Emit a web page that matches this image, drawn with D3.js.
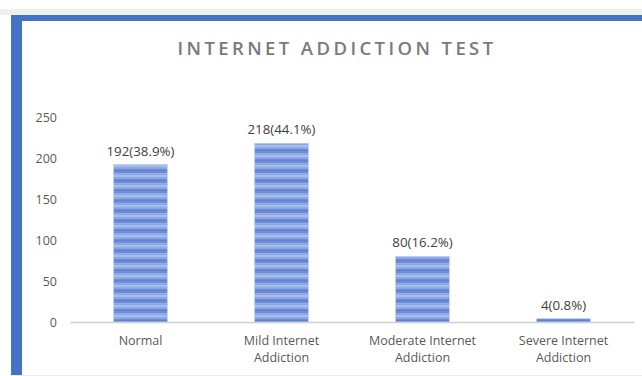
<!DOCTYPE html>
<html>
<head>
<meta charset="utf-8">
<script src="https://cdn.jsdelivr.net/npm/d3@7"></script>
<style>
  body { margin: 0; background: #fff; }
  svg { display: block; }
  text { font-family: "Open Sans", "Noto Sans", sans-serif; }
</style>
</head>
<body>
<svg></svg>
<script>
let categories = [["Normal"], ["Mild Internet", "Addiction"], ["Moderate Internet", "Addiction"], ["Severe Internet", "Addiction"]];
let counts = [192, 218, 80, 4];
let labels = ["192(38.9%)", "218(44.1%)", "80(16.2%)", "4(0.8%)"];
let yTicks = [0, 50, 100, 150, 200, 250];

let width = 642;
let height = 376;
let svg = d3.select("svg").attr("width", width).attr("height", height);

// frame
svg.append("rect").attr("x", 0).attr("y", 9).attr("width", width).attr("height", 6).attr("fill", "#efefef");
svg.append("rect").attr("x", 11).attr("y", 15).attr("width", width - 11).attr("height", 6).attr("fill", "#4472c4");
svg.append("rect").attr("x", 11).attr("y", 15).attr("width", 11).attr("height", 360).attr("fill", "#4472c4");
svg.append("line").attr("x1", 11).attr("x2", width).attr("y1", 375.5).attr("y2", 375.5).attr("stroke", "#ececec");

// striped fill
let defs = svg.append("defs");
let pat = defs.append("pattern").attr("id", "stripes")
    .attr("patternUnits", "userSpaceOnUse").attr("width", 10).attr("height", 10);
let stripeCols = ["#5b80d2", "#6a8cd8", "#8aa6e2", "#a9bfea", "#8ea9e3", "#6d8fd9"];
stripeCols.forEach((c, i) => {
    pat.append("rect").attr("x", 0).attr("y", i * 10 / stripeCols.length)
        .attr("width", 10).attr("height", 10 / stripeCols.length + 0.2).attr("fill", c);
});

let xScale = d3.scaleBand().domain(d3.range(counts.length)).range([70, 634]).paddingInner(0.62).paddingOuter(0.31);
let yScale = d3.scaleLinear().domain([0, 250]).range([322, 117]);

svg.append("text")
    .attr("x", 337).attr("y", 55)
    .attr("text-anchor", "middle")
    .attr("fill", "#7a7a7a")
    .attr("font-size", 18.5)
    .attr("font-weight", 600)
    .attr("letter-spacing", 3.4)
    .text("INTERNET ADDICTION TEST");

// y axis labels
let yAxis = d3.axisLeft(yScale).tickValues(yTicks).tickSize(0).tickPadding(0);
let gy = svg.append("g").attr("transform", "translate(57,0)").call(yAxis);
gy.select(".domain").remove();
gy.selectAll("text").attr("fill", "#595959").attr("font-size", 12.5)
    .attr("font-family", "'Open Sans', sans-serif");

// bars
svg.selectAll(".bar").data(counts).enter().append("rect")
    .attr("class", "bar")
    .attr("x", (d, i) => xScale(i))
    .attr("y", d => yScale(d))
    .attr("width", xScale.bandwidth())
    .attr("height", d => yScale(0) - yScale(d))
    .attr("fill", "url(#stripes)")
    .attr("stroke", "#b4c7ec").attr("stroke-width", 0.6);

// baseline
let xAxis = d3.axisBottom(xScale).tickSize(0).tickFormat("");
let gx = svg.append("g").attr("transform", "translate(0," + yScale(0) + ")").call(xAxis);
gx.select(".domain").attr("stroke", "#d0d0d0").attr("stroke-width", 1.5);

// category labels
categories.forEach((lines, i) => {
    let t = svg.append("text")
        .attr("x", xScale(i) + xScale.bandwidth() / 2)
        .attr("y", 345)
        .attr("text-anchor", "middle")
        .attr("fill", "#595959")
        .attr("font-size", 12.5);
    lines.forEach((l, j) => {
        t.append("tspan").attr("x", xScale(i) + xScale.bandwidth() / 2).attr("dy", j ? 17 : 0).text(l);
    });
});

// data labels
svg.selectAll(".lbl").data(counts).enter().append("text")
    .attr("class", "lbl")
    .attr("x", (d, i) => xScale(i) + xScale.bandwidth() / 2)
    .attr("y", d => yScale(d) - 9)
    .attr("text-anchor", "middle")
    .attr("fill", "#404040")
    .attr("font-size", 13.3)
    .text((d, i) => labels[i]);
</script>
</body>
</html>
